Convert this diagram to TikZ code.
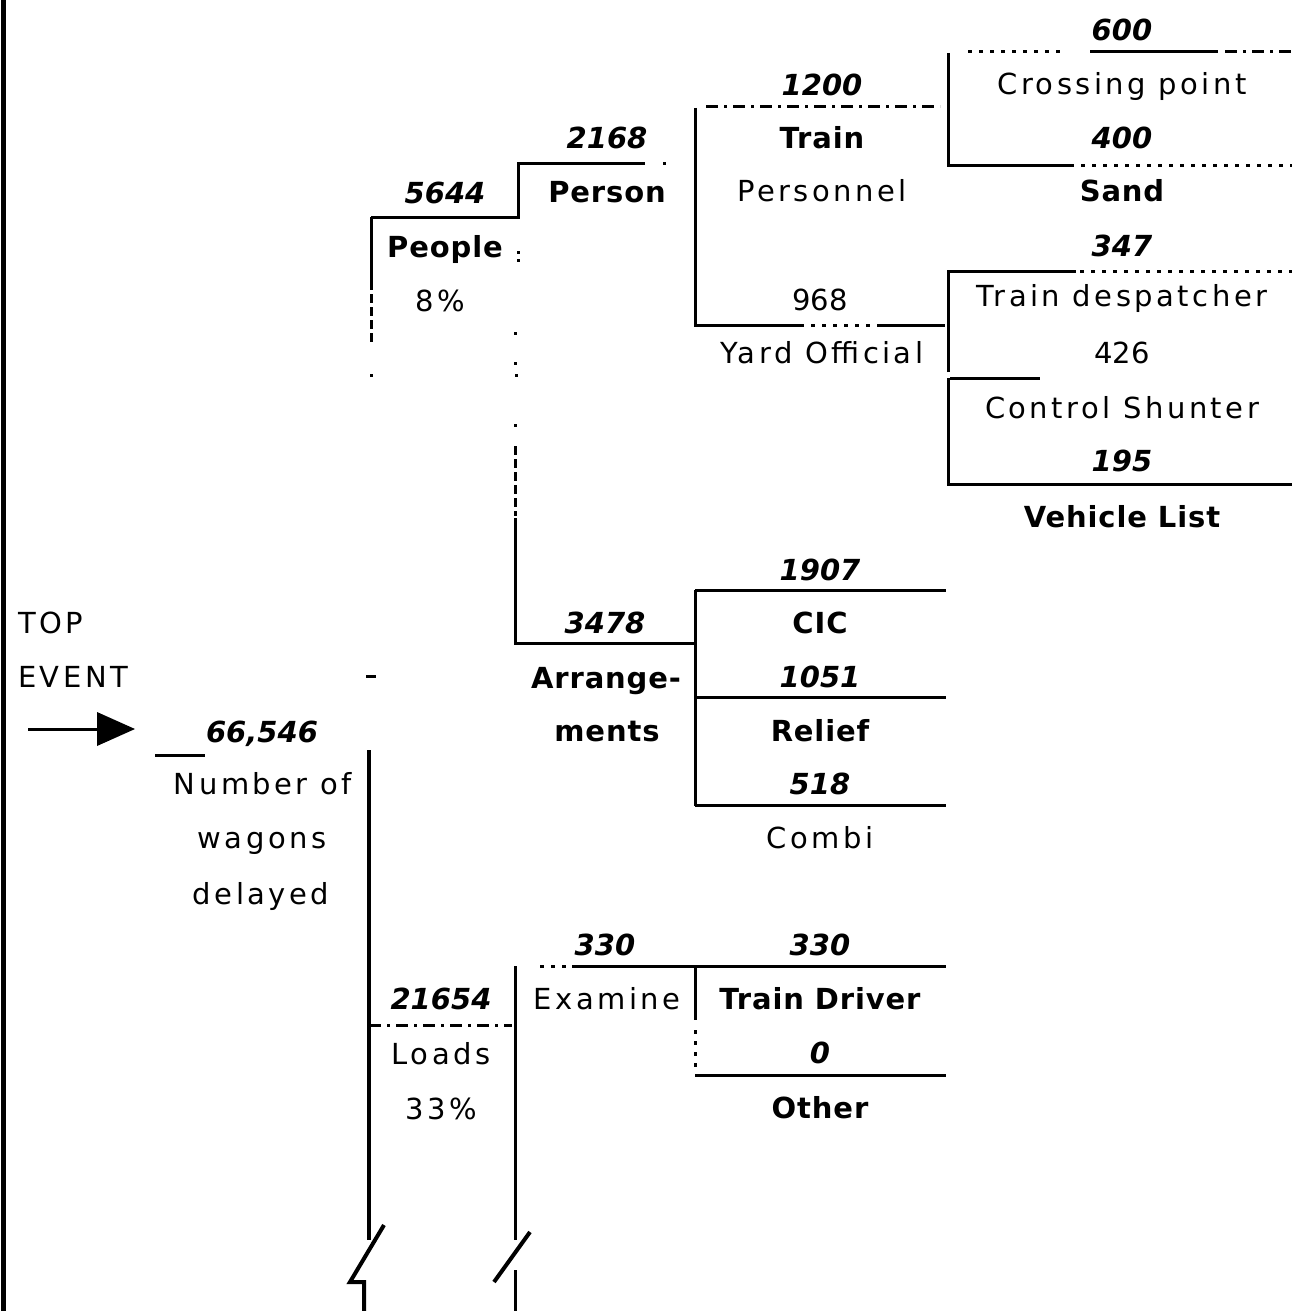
\documentclass[tikz,border=0pt]{standalone}
\usepackage{fontspec}
\newfontfamily\rgfont[LetterSpace=12]{DejaVu Sans}
\newfontfamily\bdfont[LetterSpace=3]{DejaVu Sans}
\newfontfamily\nmfont{DejaVu Sans}
\tikzset{
  lbl/.style={anchor=base,inner sep=0pt,font=\rgfont\fontsize{29}{34}\selectfont},
  lblb/.style={anchor=base,inner sep=0pt,font=\bdfont\bfseries\fontsize{29}{34}\selectfont},
  num/.style={anchor=base,inner sep=0pt,font=\nmfont\bfseries\itshape\fontsize{29}{34}\selectfont},
  numr/.style={anchor=base,inner sep=0pt,font=\nmfont\fontsize{29}{34}\selectfont},
  ln/.style={line width=3pt},
  dl/.style={line width=3pt,dash pattern=on 4pt off 7pt},
  dm/.style={line width=3pt,dash pattern=on 9pt off 4pt},
  dd/.style={line width=3pt,dash pattern=on 12pt off 6pt on 3pt off 6pt},
  dot/.style={fill,minimum size=3pt,inner sep=0pt},
}
\begin{document}
\begin{tikzpicture}[x=1pt,y=-1pt]
\useasboundingbox (0,0) rectangle (1292,1311);
% left border
\draw[line width=5pt] (3,0) -- (3,1311);
% top event
\node[lbl,anchor=base west] (top) at (18,633) {TOP};
\node[lbl,anchor=base west] (event) at (18,687) {EVENT};
\draw[ln] (28,729) -- (100,729);
\fill (97,712) -- (135,729) -- (97,746) -- cycle;
\draw[ln] (155,755) -- (205,755);
\node[num] (n66) at (262,742) {66,546};
\node[lbl] (nw1) at (263,794) {Number of};
\node[lbl] (nw2) at (262,848) {wagons};
\node[lbl] (nw3) at (261,904) {delayed};
% main vertical x=369
\draw[line width=3.5pt] (369,750) -- (369,1240);
\draw[line width=4pt] (384,1225) -- (350,1282) -- (364,1282) -- (364,1311);
\draw[ln] (371,217) -- (371,290);
\draw[dm] (371,294) -- (371,342);
\fill (369.5,373.5) rectangle ++(3,3);
\draw[ln] (366,676) -- (376,676);
% people branch
\draw[ln] (371,217) -- (518,217) -- (518,163) -- (645,163);
\fill (662.5,161.5) rectangle ++(3,3);
\fill (516.5,250.5) rectangle ++(3,3);
\fill (516.5,258.5) rectangle ++(3,3);
\node[num] (n5644) at (445,203) {5644};
\node[lblb] (people) at (445,257) {People};
\node[lbl] (p8) at (440,311) {8\%};
\node[num] (n2168) at (607,148) {2168};
\node[lblb] (person) at (607,202) {Person};
% vertical x=515 to arrangements
\fill (513.5,331.5) rectangle ++(3,3);
\fill (513.5,361.5) rectangle ++(3,3);
\fill (514.5,373.5) rectangle ++(3,3);
\fill (513.5,423.5) rectangle ++(3,3);
\draw[dm] (515,446) -- (515,516);
\draw[ln] (515,518) -- (515,643) -- (695,643);
\node[num] (n3478) at (605,633) {3478};
\node[lblb] (arr1) at (606,688) {Arrange-};
\node[lblb] (arr2) at (607,741) {ments};
% arrangements group
\draw[ln] (695,590) -- (695,806);
\draw[ln] (695,590) -- (946,590);
\draw[ln] (695,697) -- (946,697);
\draw[ln] (695,805) -- (946,805);
\node[num] (n1907) at (820,580) {1907};
\node[lblb] (cic) at (820,633) {CIC};
\node[num] (n1051) at (820,687) {1051};
\node[lblb] (relief) at (820,741) {Relief};
\node[num] (n518) at (820,794) {518};
\node[lbl] (combi) at (820,848) {Combi};
% person group
\draw[ln] (695,108) -- (695,325) -- (800,325);
\draw[dl] (800,325) -- (880,325);
\draw[ln] (880,325) -- (945,325);
\draw[dd] (706,107) -- (940,107);
\node[num] (n1200) at (822,96) {1200};
\node[lblb] (train) at (822,148) {Train};
\node[lbl] (personnel) at (822,201) {Personnel};
\node[numr] (n968) at (820,310) {968};
\node[lbl] (yard) at (822,363) {Yard Official};
% crossing point group
\draw[ln] (948,53) -- (948,165) -- (1070,165);
\draw[dl] (1070,165) -- (1292,165);
\draw[dl] (968,52) -- (1060,52);
\draw[ln] (1090,52) -- (1218,52);
\draw[dd] (1225,52) -- (1292,52);
\node[num] (n600) at (1122,41) {600};
\node[lbl] (crossing) at (1122,95) {Crossing point};
\node[num] (n400) at (1122,148) {400};
\node[lblb] (sand) at (1122,201) {Sand};
% yard official group
\draw[ln] (948,372) -- (948,271) -- (1076,271);
\draw[dl] (1080,271) -- (1292,271);
\draw[ln] (948,378) -- (948,484) -- (1292,484);
\draw[ln] (950,378) -- (1040,378);
\node[num] (n347) at (1122,256) {347};
\node[lbl] (despatcher) at (1122,306) {Train despatcher};
\node[numr] (n426) at (1122,363) {426};
\node[lbl] (shunter) at (1122,418) {Control Shunter};
\node[num] (n195) at (1122,471) {195};
\node[lblb] (vehicle) at (1122,527) {Vehicle List};
% loads branch
\draw[dd] (369,1025) -- (512,1025);
\node[num] (n21654) at (441,1009) {21654};
\node[lbl] (loads) at (441,1064) {Loads};
\node[lbl] (p33) at (441,1119) {33\%};
% examine
\draw[ln] (515,966) -- (515,1240);
\draw[line width=4pt] (530,1232) -- (494,1282);
\draw[ln] (515,1270) -- (515,1311);
\draw[dl] (540,966) -- (572,966);
\draw[ln] (572,966) -- (946,966);
\node[num] (n330a) at (605,955) {330};
\node[lbl] (examine) at (607,1009) {Examine};
% train driver group
\draw[ln] (695,966) -- (695,1020);
\draw[dl] (695,1030) -- (695,1070);
\draw[ln] (695,1075) -- (946,1075);
\node[num] (n330b) at (820,955) {330};
\node[lblb] (driver) at (820,1009) {Train Driver};
\node[num] (n0) at (820,1063) {0};
\node[lblb] (other) at (820,1118) {Other};
\end{tikzpicture}
\end{document}
